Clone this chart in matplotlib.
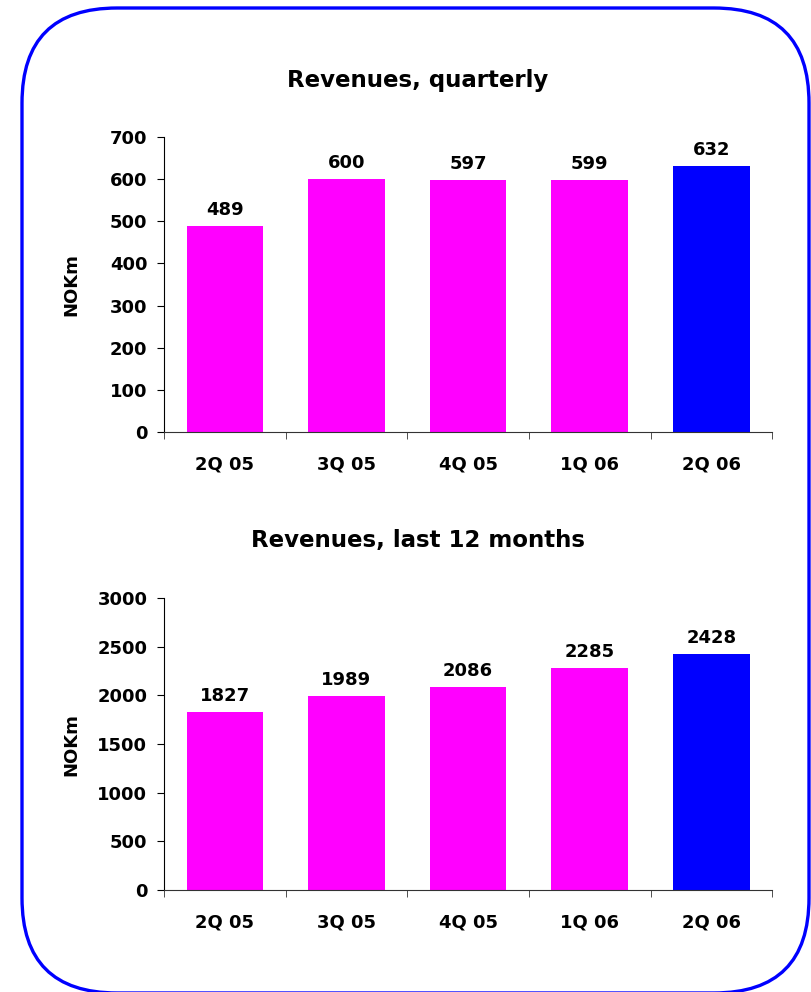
import matplotlib
matplotlib.use("Agg")
import matplotlib.pyplot as plt
from matplotlib.patches import FancyBboxPatch
import numpy as np

quarters = ["2Q 05", "3Q 05", "4Q 05", "1Q 06", "2Q 06"]
quarterly = [489, 600, 597, 599, 632]
last12m = [1827, 1989, 2086, 2285, 2428]
bar_colors = ["#FF00FF", "#FF00FF", "#FF00FF", "#FF00FF", "#0000FF"]

plt.rcParams["font.family"] = "DejaVu Sans"
plt.rcParams["font.weight"] = "bold"

W, H = 812, 992
fig = plt.figure(figsize=(W / 100, H / 100), dpi=100)

# frame around the slide, drawn in pixel units
bg = fig.add_axes([0, 0, 1, 1])
bg.set_xlim(0, W)
bg.set_ylim(H, 0)
bg.axis("off")
bg.add_patch(FancyBboxPatch((22, 8), 787, 985,
                            boxstyle="round,pad=0,rounding_size=95",
                            facecolor="white", edgecolor="#0000FF",
                            linewidth=2.4, clip_on=False))

FS = 13


def bar_panel(rect, values, ymax, ystep, title, title_y, label_y):
    ax = fig.add_axes(rect)
    x = np.arange(len(quarters))
    ax.bar(x, values, width=0.63, color=bar_colors)
    for xi, v in zip(x, values):
        ax.annotate(str(v), (xi, v), xytext=(0, 5), textcoords="offset points",
                    ha="center", va="bottom", fontsize=FS, fontweight="bold")
    ax.set_xlim(-0.5, len(quarters) - 0.5)
    ax.set_ylim(0, ymax)
    ax.set_yticks(np.arange(0, ymax + 1, ystep))
    ax.set_xticks(x)
    ax.set_xticklabels(quarters)
    ax.set_xticks(np.arange(-0.5, len(quarters)), minor=True)
    ax.tick_params(axis="x", which="major", length=0, pad=17, labelsize=FS)
    ax.tick_params(axis="x", which="minor", length=5, direction="out",
                   color="#333333")
    ax.tick_params(axis="y", length=5, direction="out", labelsize=FS, pad=7)
    for lbl in ax.get_xticklabels() + ax.get_yticklabels():
        lbl.set_fontweight("bold")
    ax.spines["top"].set_visible(False)
    ax.spines["right"].set_visible(False)
    ax.spines["bottom"].set_color("#333333")
    fig.text(71 / W, 1 - label_y / H, "NOKm", rotation=90, ha="center",
             va="center", fontsize=FS, fontweight="bold")
    fig.text(418 / W, 1 - title_y / H, title, ha="center", va="center",
             fontsize=16.5, fontweight="bold")
    return ax


bar_panel([0.202, 0.5645, 0.749, 0.2974], quarterly, 700, 100,
          "Revenues, quarterly", 80, 285)
bar_panel([0.202, 0.1028, 0.749, 0.2944], last12m, 3000, 500,
          "Revenues, last 12 months", 540, 745)

fig.savefig("out.png", dpi=100)
